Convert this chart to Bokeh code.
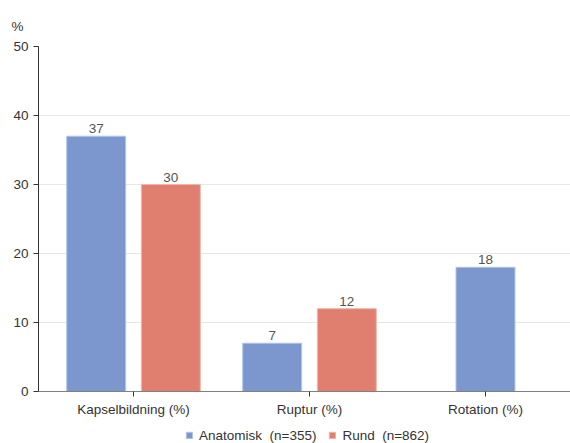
from bokeh.plotting import figure
from bokeh.models import (Range1d, FixedTicker, Legend, LegendItem, Title, ColumnDataSource)
from bokeh.embed import file_html
from bokeh.resources import INLINE
from bokeh.core.properties import value

categories = ["Kapselbildning (%)", "Ruptur (%)", "Rotation (%)"]
anatomisk = [37, 7, 18]
rund = [30, 12, None]
series_names = ["Anatomisk  (n=355)", "Rund  (n=862)"]
colors = ["#7B97CE", "#E07F6F"]
outline = ["#B4C4E6", "#F0B6AC"]
y_ticks = [0, 10, 20, 30, 40, 50]

FONT = "Liberation Sans"
FS = "13.5px"

p = figure(width=570, height=443, output_backend="svg", toolbar_location=None,
           x_range=Range1d(-0.5398, 2.483), y_range=Range1d(-7.536, 50),
           min_border_left=38, min_border_right=0, min_border_top=46, min_border_bottom=0)
p.outline_line_color = None
p.background_fill_color = "white"

p.title = Title(text="%", align="left", offset=-27, standoff=26, text_font=FONT,
                text_font_size=FS, text_font_style="normal", text_color="#333333")

offset = 0.212
width = 0.335
renderers = []
for si, vals in enumerate([anatomisk, rund]):
    xs, tops = [], []
    for ci, v in enumerate(vals):
        if v is None:
            continue
        both = anatomisk[ci] is not None and rund[ci] is not None
        off = (-offset if si == 0 else offset) if both else 0.0
        xs.append(ci + off)
        tops.append(v)
    src = ColumnDataSource(dict(x=xs, top=tops, label=[str(t) for t in tops]))
    r = p.vbar(x="x", top="top", bottom=0, width=width, source=src,
               fill_color=colors[si], line_color=outline[si], line_width=1)
    renderers.append(r)
    p.text(x="x", y="top", text="label", source=src, text_align="center",
           text_baseline="bottom", y_offset=-3, text_color="#555555",
           text_font=value(FONT), text_font_size=FS)

p.xaxis.ticker = FixedTicker(ticks=[0, 1, 2])
p.xaxis.major_label_overrides = {i: c for i, c in enumerate(categories)}
p.xaxis.fixed_location = 0
p.yaxis.ticker = FixedTicker(ticks=y_ticks)
p.yaxis.bounds = (0, 50)

for ax in [p.xaxis[0], p.yaxis[0]]:
    ax.major_label_text_font = FONT
    ax.major_label_text_font_size = FS
    ax.major_label_text_color = "#333333"
    ax.minor_tick_line_color = None
    ax.major_tick_in = 0
    ax.major_tick_out = 5
    ax.major_tick_line_color = "#333333"
p.xaxis.axis_line_color = "#808080"
p.yaxis.axis_line_color = "#333333"
p.xaxis.major_label_standoff = 5
p.yaxis.major_label_standoff = 5

p.xgrid.grid_line_color = None
p.ygrid.grid_line_color = "#E6E6E6"

legend = Legend(items=[LegendItem(label=series_names[i], renderers=[renderers[i]]) for i in range(2)],
                orientation="horizontal", location=(147, 0), glyph_width=8, glyph_height=8,
                label_text_font=FONT, label_text_font_size=FS, label_text_color="#333333",
                border_line_color=None, background_fill_alpha=0, spacing=12, padding=0, margin=0,
                label_standoff=6, label_height=16)
p.add_layout(legend)

open("out.html", "w").write(file_html(p, INLINE))
